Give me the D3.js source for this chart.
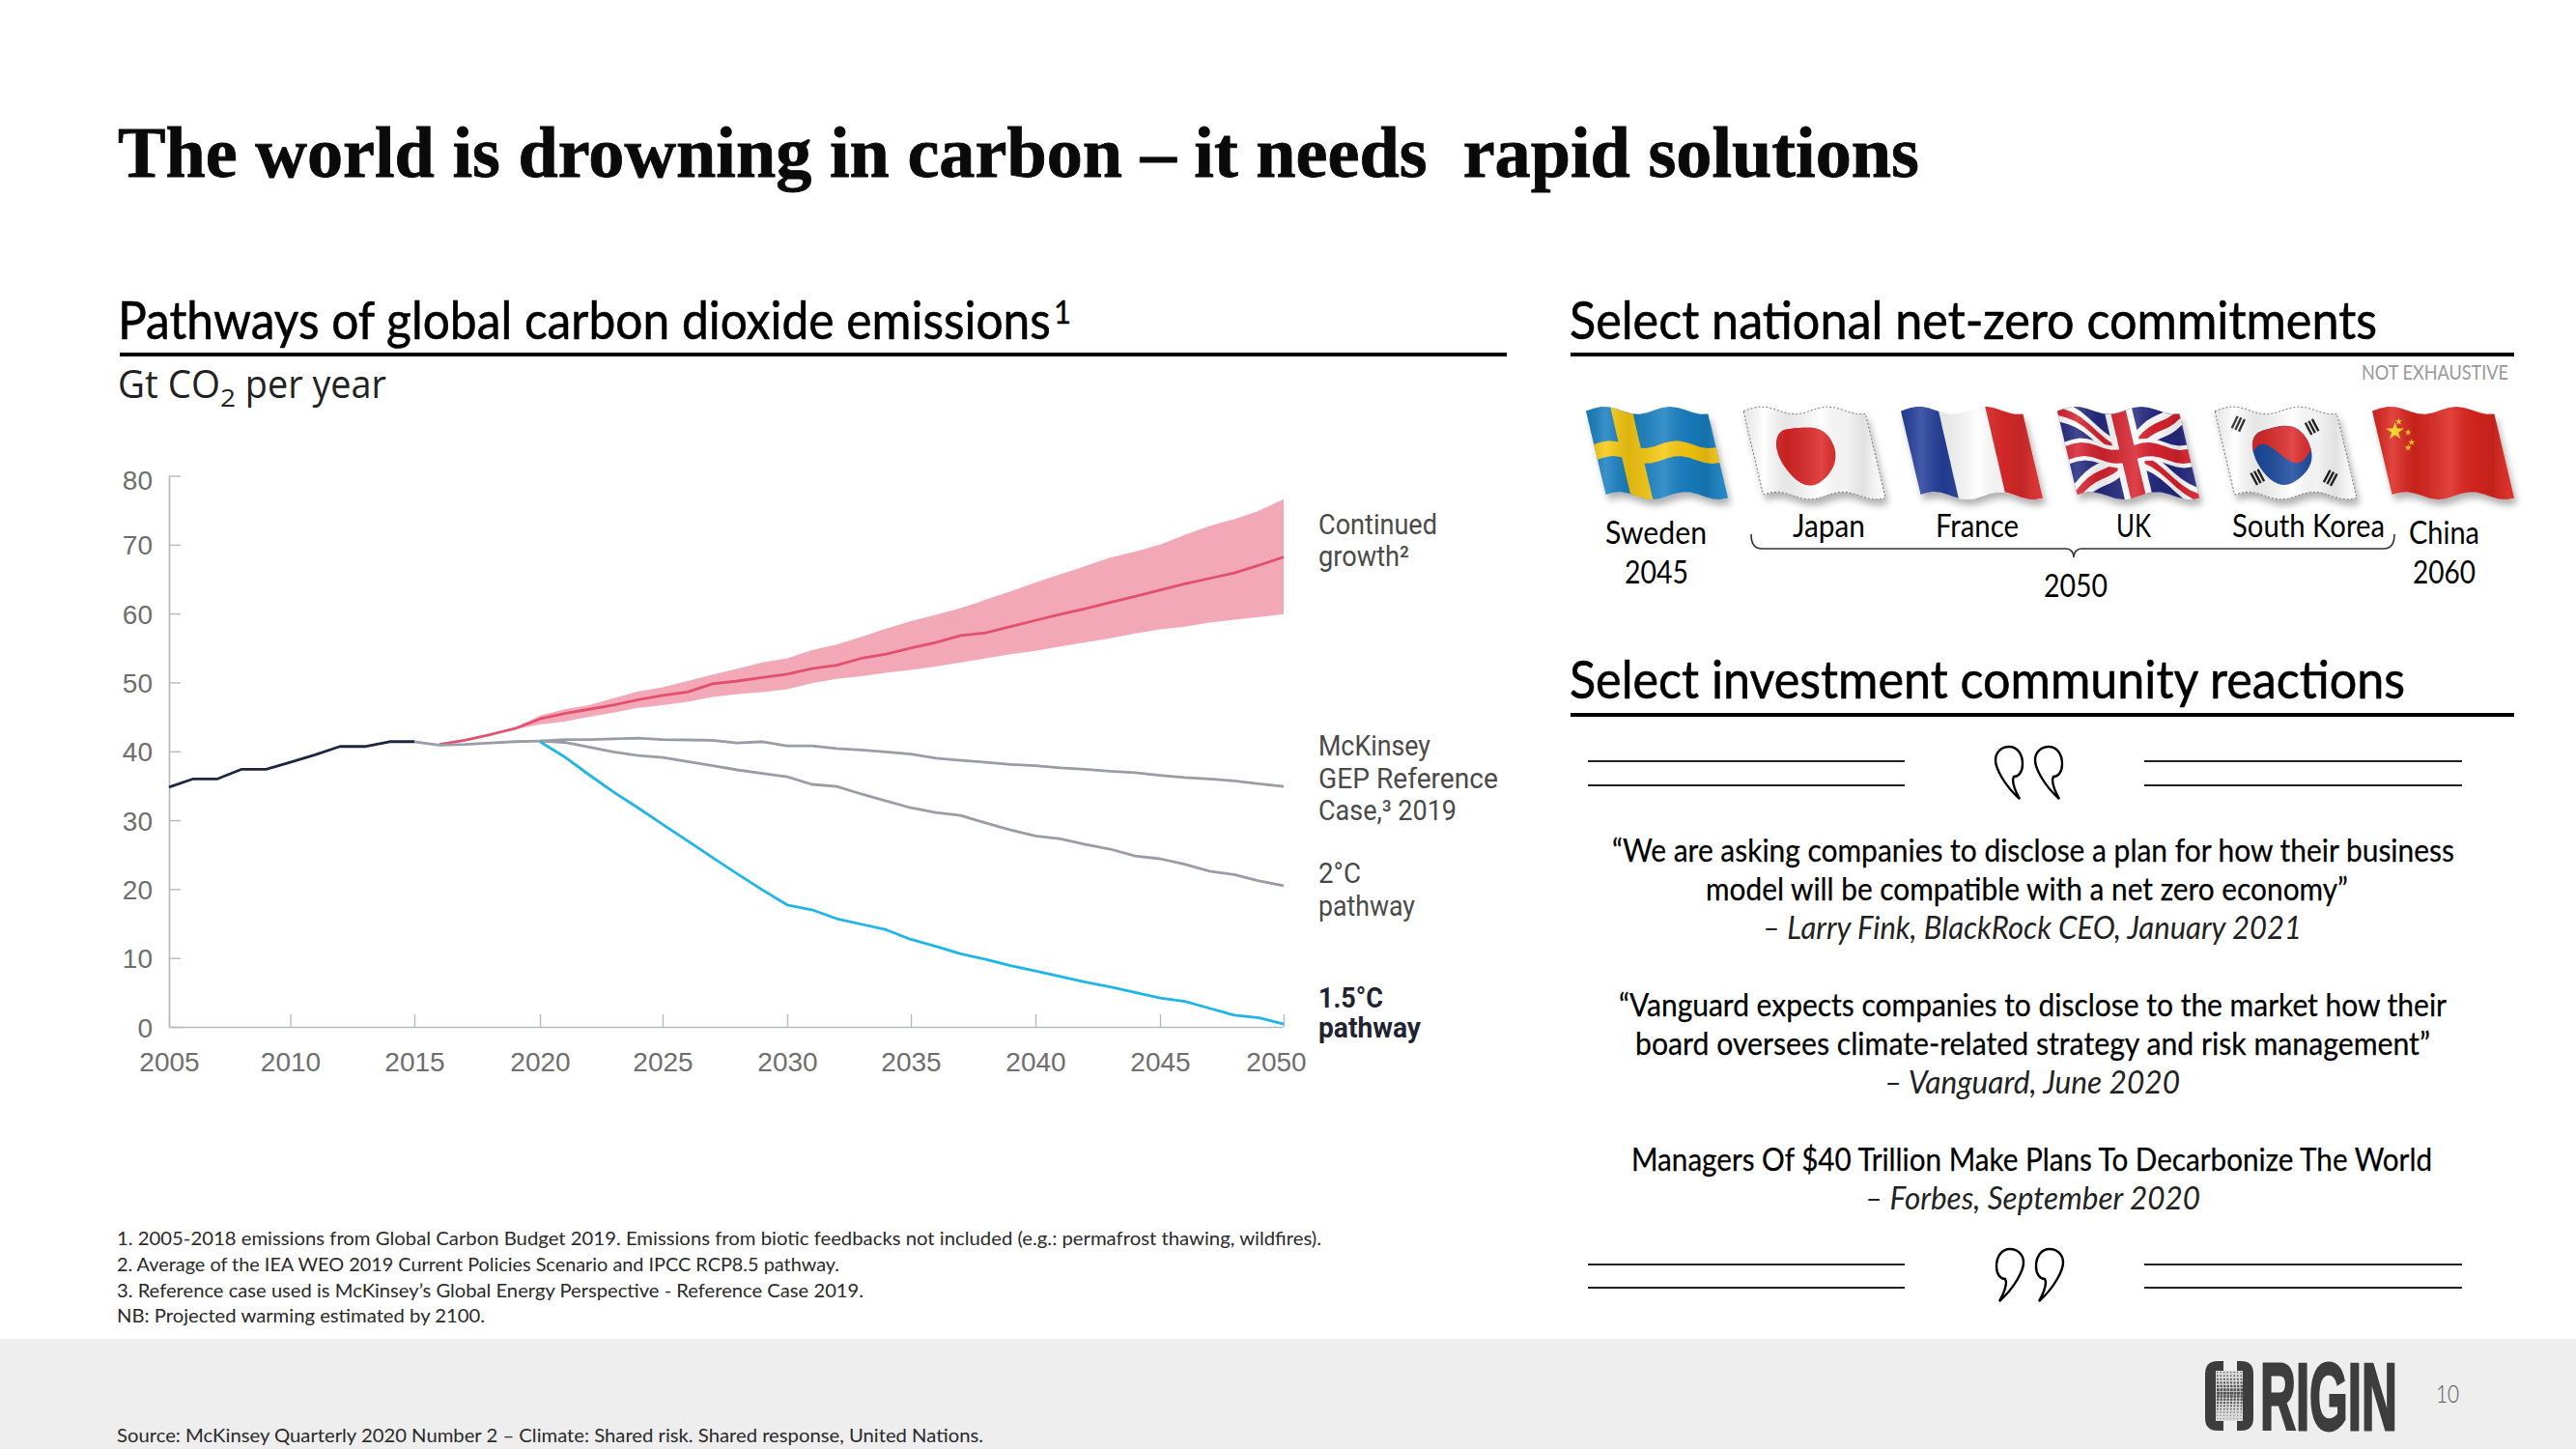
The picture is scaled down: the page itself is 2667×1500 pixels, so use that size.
<!DOCTYPE html>
<html><head><meta charset="utf-8">
<script src="https://cdnjs.cloudflare.com/ajax/libs/d3/7.8.5/d3.min.js"></script>
<style>html,body{margin:0;padding:0;background:#fff}svg{display:block}text{white-space:pre}</style>
</head><body><svg id="c" width="2667" height="1500"></svg>
<script>
// ---- data ----
const yTicks = [0,10,20,30,40,50,60,70,80];
const xTicks = [2005,2010,2015,2020,2025,2030,2035,2040,2045,2050];
const histYears = d3.range(2005,2016);
const histValues = [34.8,36,36,37.4,37.4,38.4,39.5,40.7,40.7,41.4,41.4];
const sharedYears = d3.range(2015,2021);
const sharedValues = [41.4,40.9,41.0,41.2,41.4,41.5];
const projYears = d3.range(2020,2051);
const mckinsey = [41.5,41.7,41.7,41.8,41.9,41.7,41.65,41.6,41.2,41.4,40.8,40.8,40.4,40.2,39.9,39.6,39.0,38.7,38.4,38.1,37.9,37.6,37.4,37.1,36.9,36.5,36.2,36.0,35.7,35.3,34.9];
const twoDeg = [41.5,41.3,40.6,39.9,39.4,39.1,38.5,37.9,37.3,36.8,36.3,35.2,34.9,33.8,32.8,31.8,31.1,30.7,29.6,28.6,27.7,27.3,26.5,25.8,24.8,24.4,23.6,22.6,22.1,21.2,20.5];
const onePointFive = [41.4,39.2,36.6,34.1,31.8,29.4,27.0,24.6,22.2,19.9,17.7,17,15.7,14.9,14.1,12.7,11.7,10.6,9.8,8.9,8.1,7.3,6.5,5.8,5,4.2,3.7,2.7,1.7,1.3,0.4];
const growthYears = d3.range(2016,2051);
const growth = [41.0,41.6,42.4,43.3,44.7,45.5,46.1,46.7,47.5,48.1,48.6,49.8,50.2,50.7,51.2,52,52.5,53.5,54.1,55,55.8,56.8,57.2,58.1,59,59.9,60.7,61.6,62.5,63.4,64.3,65.1,65.9,67,68.2];
const bandYears = d3.range(2016,2051);
const bandUpper = [41.0,41.6,42.4,43.4,45.2,46.1,46.7,47.7,48.7,49.3,50.2,51.1,52,52.9,53.5,54.7,55.5,56.6,57.8,58.9,59.8,60.8,62,63.2,64.5,65.7,66.9,68.1,69,70,71.4,72.7,73.7,74.9,76.6];
const bandLower = [41.0,41.6,42.4,43.2,43.9,44.3,45,45.6,46.3,46.7,47.2,47.9,48.3,48.6,49,49.9,50.5,50.9,51.4,51.8,52.3,52.9,53.5,54.1,54.6,55.2,55.8,56.4,57.1,57.7,58.1,58.7,59.1,59.5,59.9];

const svg = d3.select('#c');
const defs = svg.append('defs');
const BODY = 'Lato, Carlito, "Noto Sans", sans-serif';

function fit(t,x1,x2,y,size,o={}){
  const el = svg.append('text').attr('x',x1).attr('y',y)
    .attr('font-size',size).attr('font-family',o.font||BODY)
    .attr('font-weight',o.weight||400).attr('font-style',o.italic?'italic':'normal')
    .attr('fill',o.fill||'#111')
    .attr('textLength',x2-x1).attr('lengthAdjust','spacingAndGlyphs');
  if(o.stroke) el.attr('stroke',o.fill||'#111').attr('stroke-width',o.stroke);
  el.text(t);
  return el;
}
// same as fit, but squeezes with a transform, so the text box itself is the drawn width
function squeeze(t,x1,x2,y,size,o={}){
  const el = fit(t,0,1,0,size,o).attr('textLength',null).attr('lengthAdjust',null).attr('x',0).attr('y',0);
  const n = el.node().getComputedTextLength();
  el.attr('transform',`translate(${x1},${y}) scale(${(x2-x1)/n},1)`);
  return el;
}
function rule(x1,x2,y,w,c){svg.append('line').attr('x1',x1).attr('x2',x2).attr('y1',y).attr('y2',y).attr('stroke',c||'#000').attr('stroke-width',w);}

svg.append('rect').attr('width',2667).attr('height',1500).attr('fill','#fff');
svg.append('rect').attr('y',1386).attr('width',2667).attr('height',114).attr('fill','#eeeeee');

// headings
fit('The world is drowning in carbon – it needs  rapid solutions',122,1987,183,73,{font:'"Liberation Serif",serif',weight:700,fill:'#0a0a0a',stroke:.8});
squeeze('Pathways of global carbon dioxide emissions',122,1088,351,55,{fill:'#000',stroke:.6});
fit('1',1091,1109,335,33,{fill:'#000',stroke:.4});
rule(124,1560,367,4);
fit('Gt CO',122,228,412,40,{font:'"Open Sans",sans-serif',fill:'#222'});
fit('2',228,244,421,25,{font:'"Open Sans",sans-serif',fill:'#222'});
fit(' per year',244,400,412,40,{font:'"Open Sans",sans-serif',fill:'#222'});
fit('Select national net-zero commitments',1625,2461,351,55,{fill:'#000',stroke:.6});
rule(1626,2603,367,4);
fit('NOT EXHAUSTIVE',2445,2597,393,21,{fill:'#999'});
fit('Select investment community reactions',1625,2490,723,55,{fill:'#000',stroke:.6});
rule(1626,2603,740,4);

// ---- chart ----
const x = d3.scaleLinear().domain(xTicks).range([175,300.5,429,559,686,815,943,1072,1201,1329]);
const y = d3.scaleLinear().domain([0,80]).range([1063,492.5]);
const AX='#b7babd', TK='#6e6e6e', CF='"Liberation Sans",Arial,sans-serif';
const gy = svg.append('g').attr('transform','translate(175,0)').call(d3.axisLeft(y).tickValues(yTicks).tickSize(-12).tickPadding(17));
const gx = svg.append('g').attr('transform','translate(0,1063)').call(d3.axisBottom(x).tickValues(xTicks).tickFormat(d3.format('d')).tickSize(-13).tickPadding(26));
[gy,gx].forEach(g=>{
  g.selectAll('path.domain').attr('stroke',AX).attr('stroke-width',1.6).attr('d',g===gy?'M0.5,492.5V1063':'M175,0.5H1329');
  g.selectAll('.tick line').attr('stroke',AX).attr('stroke-width',1.4);
  g.selectAll('text').attr('font-family',CF).attr('font-size',28).attr('fill',TK);
});
gx.selectAll('.tick text').attr('dx',d=>d===2050?-8:0).attr('dy','0.72em');
gy.selectAll('.tick text').attr('dy',d=>d===80?'0.5em':'0.36em');

const band = d3.area().x((d,i)=>x(bandYears[i])).y0(d=>y(d[0])).y1(d=>y(d[1]));
svg.append('path').datum(bandLower.map((l,i)=>[l,bandUpper[i]])).attr('d',band).attr('fill','#f2a8b7');
const line = yrs => d3.line().x((d,i)=>x(yrs[i])).y(d=>y(d));
function draw(yrs,vals,c,w){svg.append('path').datum(vals).attr('d',line(yrs)).attr('fill','none').attr('stroke',c).attr('stroke-width',w||2.8).attr('stroke-linejoin','round');}
draw(growthYears,growth,'#e2506e');
draw(sharedYears,sharedValues,'#9a9ca6');
draw(projYears,mckinsey,'#9a9ca6');
draw(projYears,twoDeg,'#9a9ca6');
draw(projYears,onePointFive,'#1fb5e6');
draw(histYears,histValues,'#1c2740');

const LF='Roboto,"Liberation Sans",sans-serif', LC='#4a4a4a';
[['Continued',1365,1488,553],['growth²',1365,1459,586],['McKinsey',1365,1481,782],['GEP Reference',1365,1551,816],['Case,³ 2019',1365,1508,849],['2°C',1365,1409,914],['pathway',1365,1465,948]]
 .forEach(r=>fit(r[0],r[1],r[2],r[3],29,{font:LF,fill:LC,weight:400}));
[['1.5°C',1365,1432,1043],['pathway',1365,1471,1074]].forEach(r=>fit(r[0],r[1],r[2],r[3],29,{font:LF,fill:'#1f2430',weight:700}));

// footnotes
const fnC='#2a2a2a';
fit('1. 2005-2018 emissions from Global Carbon Budget 2019. Emissions from biotic feedbacks not included (e.g.: permafrost thawing, wildfires).',121,1368,1289,20,{fill:fnC});
fit('2. Average of the IEA WEO 2019 Current Policies Scenario and IPCC RCP8.5 pathway.',121,869,1316,20,{fill:fnC});
fit('3. Reference case used is McKinsey’s Global Energy Perspective - Reference Case 2019.',121,894,1343,20,{fill:fnC});
fit('NB: Projected warming estimated by 2100.',121,502,1369,20,{fill:fnC});
fit('Source: McKinsey Quarterly 2020 Number 2 – Climate: Shared risk. Shared response, United Nations.',121,1018,1493,20,{fill:fnC});

// country labels
[['Sweden',1662,1767,563],['2045',1682,1748,604],['China',2494,2567,563],['2060',2498,2563,604]].forEach(r=>fit(r[0],r[1],r[2],r[3],33,{fill:'#000'}));
[['Japan',1856,1931,556],['France',2004,2090,556],['UK',2191,2227,556],['South Korea',2311,2469,556],['2050',2116,2182,618]].forEach(r=>fit(r[0],r[1],r[2],r[3],33,{fill:'#000'}));
svg.append('path').attr('fill','none').attr('stroke','#333').attr('stroke-width',1.6)
 .attr('d','M1813,553C1813,562 1816,568 1824,568H2139C2144,568 2147,572 2147,577C2147,572 2150,568 2155,568H2468C2476,568 2479,562 2479,553');

// ---- flags ----
const sh=defs.append('filter').attr('id','sh').attr('x','-20%').attr('y','-20%').attr('width','140%').attr('height','140%');
sh.append('feDropShadow').attr('dx',3).attr('dy',6).attr('stdDeviation',3.5).attr('flood-color','#000').attr('flood-opacity',.3);
const gr=defs.append('linearGradient').attr('id','shade');
[[0,'#000',.1],[.14,'#fff',.14],[.3,'#000',.1],[.55,'#fff',.14],[.72,'#000',.05],[.85,'#000',.12],[1,'#fff',.06]]
 .forEach(s=>gr.append('stop').attr('offset',s[0]).attr('stop-color',s[1]).attr('stop-opacity',s[2]));

function flag(x0,y0,w,h,paint,outline){
  const g=svg.append('g').attr('filter','url(#sh)');
  const warp=(u,v)=>[x0+w*(.86*u+.14*v), y0+h*(.05+.9*v)-h*.04*Math.cos(2*Math.PI*1.85*(u-.15+.04*v))];
  const path=pts=>{let out=[];pts.forEach((p,i)=>{const q=pts[(i+1)%pts.length];for(let k=0;k<16;k++){out.push(warp(p[0]+(q[0]-p[0])*k/16,p[1]+(q[1]-p[1])*k/16));}});return 'M'+out.map(p=>p[0].toFixed(1)+','+p[1].toFixed(1)).join('L')+'Z';};
  const poly=(pts,c)=>g.append('path').attr('d',path(pts)).attr('fill',c);
  const rect=(a,b,c,d,col)=>poly([[a,c],[b,c],[b,d],[a,d]],col);
  const disc=(u,v,r,col)=>{const pts=d3.range(0,48).map(i=>{const t=i/48*2*Math.PI;return [u+r/w*Math.cos(t)/.86,v+r/h*Math.sin(t)/.9];});return g.append('path').attr('d','M'+pts.map(p=>warp(p[0],p[1]).map(n=>n.toFixed(1)).join(',')).join('L')+'Z').attr('fill',col);};
  paint({rect,poly,disc,warp,g,w,h});
  const o=g.append('path').attr('d',path([[0,0],[1,0],[1,1],[0,1]])).attr('fill','url(#shade)');
  if(outline) o.attr('stroke','#666').attr('stroke-width',.9).attr('stroke-dasharray','2 2');
  return g;
}
flag(1642,420,147,98,f=>{f.rect(0,1,0,1,'#1a80c2');f.rect(.2,.385,0,1,'#f7c911');f.rect(0,1,.4,.58,'#f7c911');});
flag(1805,420,147,98,f=>{f.rect(0,1,0,1,'#ffffff');f.disc(.43,.5,30,'#dc2626');},true);
flag(1968,420,147,98,f=>{f.rect(0,1,0,1,'#ffffff');f.rect(0,.31,0,1,'#25409c');f.rect(.69,1,0,1,'#dc2a2a');});
flag(2130,420,147,98,f=>{
  f.rect(0,1,0,1,'#252a80');
  const diag=(t,c)=>{f.poly([[0,0],[t,0],[1,1-t],[1,1],[1-t,1],[0,t]],c);f.poly([[1,0],[1,t],[t,1],[0,1],[0,1-t],[1-t,0]],c);};
  diag(.13,'#fff');diag(.05,'#d8232f');
  f.rect(.39,.61,0,1,'#fff');f.rect(0,1,.37,.63,'#fff');
  f.rect(.44,.56,0,1,'#d8232f');f.rect(0,1,.42,.58,'#d8232f');
});
flag(2293,420,147,98,f=>{
  f.rect(0,1,0,1,'#ffffff');
  f.disc(.47,.5,30,'#1b4a9e');
  const ru=30/147/.86, rv=30/98/.9;
  const up=d3.range(0,25).map(i=>{const t=Math.PI+i/24*Math.PI;return [.47+ru*Math.cos(t),.5+rv*Math.sin(t)];});
  const wave=d3.range(0,25).map(i=>{const s=i/24;return [.47+ru*(1-2*s),.5+rv*.42*Math.sin(2*Math.PI*s)];});
  f.poly(up.concat(wave).filter((p,i)=>i%2===0),'#dc2a2a');
  const tri=(u,v,rot)=>{[-1,0,1].forEach(k=>{const c=f.warp(u,v);f.g.append('rect').attr('x',c[0]-7).attr('y',c[1]-1.2+k*4).attr('width',14).attr('height',2.4).attr('fill','#222').attr('transform',`rotate(${rot} ${c[0]} ${c[1]})`);});};
  tri(.16,.2,-65);tri(.76,.22,62);tri(.22,.8,62);tri(.82,.78,-62);
},true);
flag(2456,420,147,98,f=>{
  f.rect(0,1,0,1,'#dc261f');
  const star=(u,v,s)=>{const c=f.warp(u,v);f.g.append('path').attr('d',d3.symbol(d3.symbolStar,s)()).attr('fill','#f7d417').attr('transform',`translate(${c[0]},${c[1]})`);};
  star(.14,.29,110);star(.19,.17,16);star(.25,.27,16);star(.26,.38,16);star(.22,.46,16);
});

// ---- quote ----
[[1644,1972],[2220,2549]].forEach(r=>{[788,813,1309,1333].forEach(yy=>rule(r[0],r[1],yy,2,'#222'));});
const Q='M25,54C9,40 0,22 0,14C0,5 7,0 14,0C23,0 28,8 28,18C28,26 24,31 19,31L18,34C18,40 21,47 25,54Z';
[0,41].forEach(dx=>{
  svg.append('path').attr('d',Q).attr('fill','#fff').attr('stroke','#000').attr('stroke-width',2.4).attr('transform',`translate(${2066+dx},773)`);
  svg.append('path').attr('d',Q).attr('fill','#fff').attr('stroke','#000').attr('stroke-width',2.4).attr('transform',`translate(${2095+dx},1293) scale(-1,1)`);
});
[['“We are asking companies to disclose a plan for how their business',1669,2541,892],
 ['model will be compatible with a net zero economy”',1766,2431,932],
 ['“Vanguard expects companies to disclose to the market how their',1676,2533,1052],
 ['board oversees climate-related strategy and risk management”',1693,2516,1092],
 ['Managers Of $40 Trillion Make Plans To Decarbonize The World',1689,2518,1212]]
 .forEach(r=>fit(r[0],r[1],r[2],r[3],32,{fill:'#000',stroke:.25}));
[['– Larry Fink, BlackRock CEO, January 2021',1825,2383,972],
 ['– Vanguard, June 2020',1951,2257,1132],
 ['– Forbes, September 2020',1931,2278,1252]]
 .forEach(r=>fit(r[0],r[1],r[2],r[3],32,{fill:'#222',italic:true}));

// ---- logo ----
const LG='#3d3d3d';
svg.append('path').attr('fill',LG).attr('d','M2302,1409H2296Q2283,1409 2283,1422V1468Q2283,1481 2296,1481H2302V1471H2298Q2294,1471 2294,1467V1423Q2294,1419 2298,1419H2302Z');
svg.append('path').attr('fill',LG).attr('d','M2316,1409H2320Q2333,1409 2333,1422V1468Q2333,1481 2320,1481H2316V1471H2318Q2322,1471 2322,1467V1423Q2322,1419 2318,1419H2316Z');
svg.append('rect').attr('x',2294).attr('y',1419).attr('width',28).attr('height',52).attr('fill','#d9d9d9');
d3.range(0,8).forEach(i=>d3.range(0,15).forEach(j=>{
  const s=3.0-Math.abs(j-6)*.3;
  svg.append('rect').attr('x',2295+i*3.5).attr('y',1420+j*3.45).attr('width',Math.max(s,.8)).attr('height',Math.max(s,.8)).attr('fill','#555');
}));
squeeze('RIGIN',2340,2482,1480,98,{font:'"Liberation Sans Narrow","Liberation Sans",sans-serif',weight:700,fill:LG,stroke:3});
fit('10',2522,2546,1452,25,{fill:'#555',weight:300});
</script></body></html>
